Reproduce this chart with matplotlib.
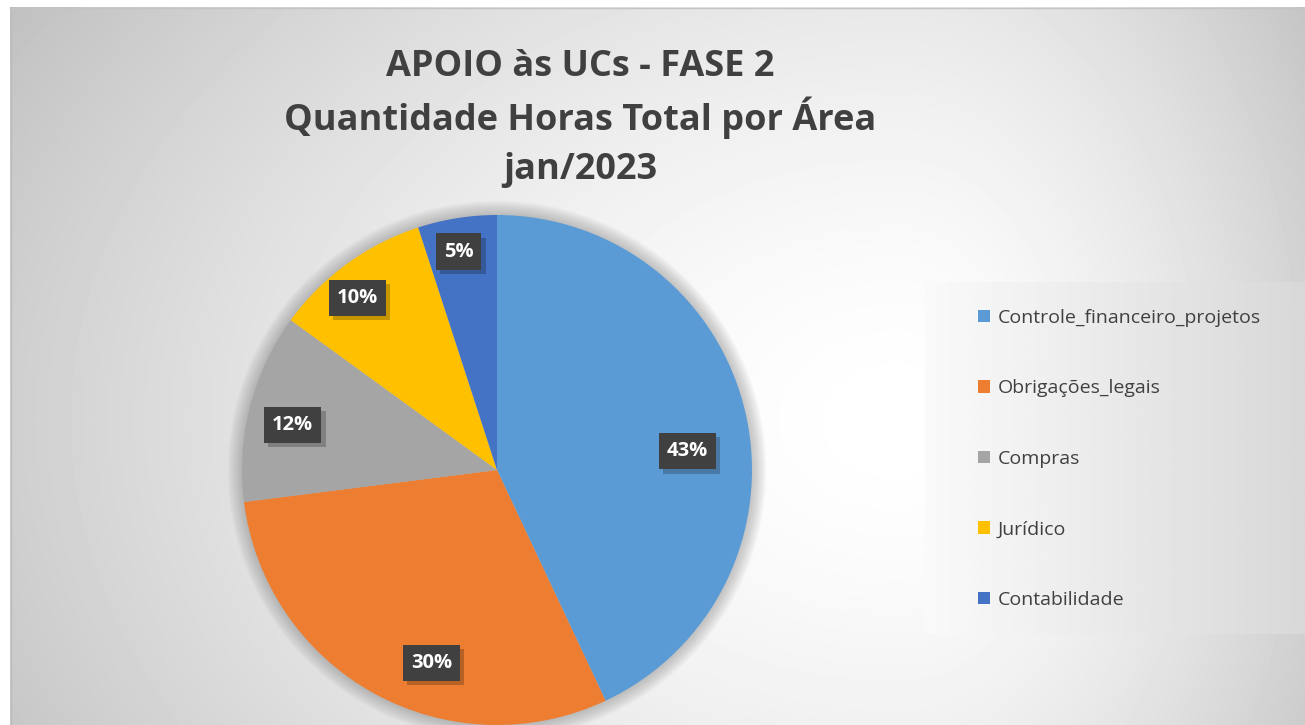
import numpy as np
import matplotlib.pyplot as plt
from matplotlib import patheffects
from matplotlib.patches import Circle

plt.rcParams['font.family'] = ['Open Sans', 'DejaVu Sans']

# Data
areas = ['Controle_financeiro_projetos', 'Obrigações_legais', 'Compras', 'Jurídico', 'Contabilidade']
shares = [43, 30, 12, 10, 5]
colors = ['#5B9BD5', '#ED7D31', '#A5A5A5', '#FFC000', '#4472C4']
title_lines = ['APOIO às UCs - FASE 2', 'Quantidade Horas Total por Área', 'jan/2023']

# label layout (distance from centre, angle shift in degrees)
label_dist = [0.75, 0.80, 0.82, 0.87, 0.87]
label_shift = [-7, 10, 2, 3, 1]

W, H = 1305, 725
fig = plt.figure(figsize=(W / 100, H / 100), dpi=100)

# background gradient
bg = fig.add_axes([0, 0, 1, 1])
yy, xx = np.mgrid[0:H, 0:W]
cx, cy = 900, 420
ax_x = np.where(xx > cx, 460, 950)
u = np.sqrt(((xx - cx) / ax_x) ** 2 + ((yy - cy) / 700) ** 2)
g = 255 - 62 * np.clip(u / 1.1, 0, 1) ** 1.6
g[:, :10] = 255
g[:7, :] = 255
bg.imshow(g, cmap='gray', vmin=0, vmax=255, extent=[0, W, H, 0], interpolation='bilinear')
bg.plot([10.5, 10.5], [7, H], color='#bcbcbc', lw=1)
bg.plot([10, W], [7.5, 7.5], color='#c4c4c4', lw=1)
bg.set_xlim(0, W)
bg.set_ylim(H, 0)
bg.axis('off')

# legend box background
lg = fig.add_axes([925 / W, (H - 634) / H, 380 / W, 352 / H])
lx = np.linspace(0, 1, 200)
lgrad = 250 - 34 * lx
lg.imshow(np.tile(lgrad, (50, 1)), cmap='gray', vmin=0, vmax=255, aspect='auto', extent=[0, 1, 0, 1])
lg.axis('off')

# pie
R = 255
half = 275
cxp, cyp = 497, 470
ax = fig.add_axes([(cxp - half) / W, (H - cyp - half) / H, 2 * half / W, 2 * half / H])

for i in range(14):
    ax.add_patch(Circle((0, 0), 1 + 0.004 * (i + 1), color='#808080', alpha=0.035, lw=0, zorder=0))

wedges, _ = ax.pie(shares, colors=colors, startangle=90, counterclock=False, radius=1,
                   wedgeprops=dict(linewidth=0))
for w in wedges:
    w.set_zorder(2)
ax.set_xlim(-half / R, half / R)
ax.set_ylim(-half / R, half / R)
ax.axis('off')

for w, s, d, sh in zip(wedges, shares, label_dist, label_shift):
    ang = np.deg2rad((w.theta1 + w.theta2) / 2 + sh)
    t = ax.text(d * np.cos(ang), d * np.sin(ang), f'{s}%', ha='center', va='center',
                color='white', fontsize=14.5, fontweight='bold', zorder=5,
                bbox=dict(boxstyle='square,pad=0.4', facecolor='#404040', linewidth=0))
    t.get_bbox_patch().set_path_effects([
        patheffects.SimplePatchShadow(offset=(3, -3), shadow_rgbFace='black', alpha=0.22),
        patheffects.Normal()])

# title
for line, y in zip(title_lines, [67, 118, 170]):
    fig.text(580 / W, 1 - y / H, line, ha='center', va='center', fontsize=26,
             fontweight='bold', color='#404040')

fig.legend(wedges, areas, loc='upper left', bbox_to_anchor=(978 / W, 1 - 309 / H),
           frameon=False, fontsize=14, labelcolor='#404040', labelspacing=2.7,
           handlelength=0.6, handleheight=0.6, handletextpad=0.4, borderpad=0, borderaxespad=0)

fig.savefig('out.png', dpi=100)
